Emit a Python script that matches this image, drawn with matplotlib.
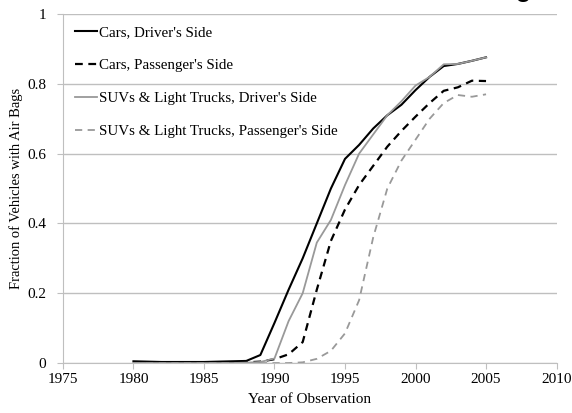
import numpy as np
import matplotlib
matplotlib.use("Agg")
import matplotlib.pyplot as plt

plt.rcParams['font.family'] = ['Liberation Serif', 'DejaVu Serif']

years = list(range(1980, 2006))

cars_driver = [0.005, 0.004, 0.003, 0.003, 0.003, 0.003, 0.004, 0.005, 0.006, 0.023,
               0.115, 0.21, 0.30, 0.40, 0.50, 0.585, 0.625, 0.672, 0.71, 0.74,
               0.782, 0.82, 0.851, 0.857, 0.866, 0.876]
cars_pass = [0.0, 0.0, 0.0, 0.0, 0.0, 0.0, 0.0, 0.001, 0.002, 0.004,
             0.011, 0.025, 0.06, 0.21, 0.35, 0.44, 0.51, 0.565, 0.62, 0.665,
             0.706, 0.745, 0.78, 0.79, 0.809, 0.808]
suv_driver = [0.0, 0.0, 0.0, 0.0, 0.0, 0.0, 0.0, 0.0, 0.001, 0.003,
              0.013, 0.12, 0.20, 0.345, 0.41, 0.51, 0.60, 0.655, 0.71, 0.75,
              0.795, 0.82, 0.856, 0.857, 0.866, 0.876]
suv_pass = [0.0, 0.0, 0.0, 0.0, 0.0, 0.0, 0.0, 0.0, 0.0, 0.0,
            0.0, 0.0, 0.002, 0.012, 0.035, 0.085, 0.18, 0.36, 0.5, 0.58,
            0.64, 0.70, 0.745, 0.768, 0.763, 0.77]

labels = ["Cars, Driver's Side", "Cars, Passenger's Side",
          "SUVs & Light Trucks, Driver's Side", "SUVs & Light Trucks, Passenger's Side"]
x_ticks = [1975, 1980, 1985, 1990, 1995, 2000, 2005, 2010]
y_ticks = [0, 0.2, 0.4, 0.6, 0.8, 1]
y_tick_labels = ['0', '0.2', '0.4', '0.6', '0.8', '1']

fig = plt.figure(figsize=(5.72, 4.13), dpi=100)
ax = fig.add_axes([0.110, 0.121, 0.863, 0.845])

grid_c = '#bfbfbf'
ax.plot(years, cars_driver, color='black', lw=1.5, label=labels[0])
ax.plot(years, cars_pass, color='black', lw=1.6, ls=(0, (3.5, 2.5)), label=labels[1])
ax.plot(years, suv_driver, color='#999999', lw=1.3, label=labels[2])
ax.plot(years, suv_pass, color='#999999', lw=1.3, ls=(0, (4, 3)), label=labels[3])

ax.set_xlim(1975, 2010)
ax.set_ylim(0, 1)
ax.set_xticks(x_ticks)
ax.set_yticks(y_ticks)
ax.set_yticklabels(y_tick_labels)
ax.yaxis.grid(True, color=grid_c, lw=1)
ax.set_axisbelow(True)
for s in ['top', 'right']:
    ax.spines[s].set_visible(False)
for s in ['left', 'bottom']:
    ax.spines[s].set_color(grid_c)
ax.tick_params(axis='both', colors=grid_c, labelcolor='black', labelsize=11, length=4)
ax.tick_params(axis='y', pad=8)

ax.set_xlabel('Year of Observation', fontsize=11, labelpad=5)
ax.set_ylabel('Fraction of Vehicles with Air Bags', fontsize=10.5, labelpad=3)

leg = ax.legend(loc='upper left', frameon=False, fontsize=10.8, handlelength=1.45,
                handletextpad=0.15, labelspacing=1.3, bbox_to_anchor=(0.024, 0.966),
                borderaxespad=0.0, borderpad=0.0)

# clipped fragment of a caption above the chart
fig.text(515 / 572, 1 + 5.5 / 413, 'g', fontsize=22, family='Liberation Sans',
         va='baseline', ha='left')
fig.text(564 / 572, 1 + 5.5 / 413, ',', fontsize=22, family='Liberation Sans',
         va='baseline', ha='left')

fig.savefig('out.png', dpi=100)
